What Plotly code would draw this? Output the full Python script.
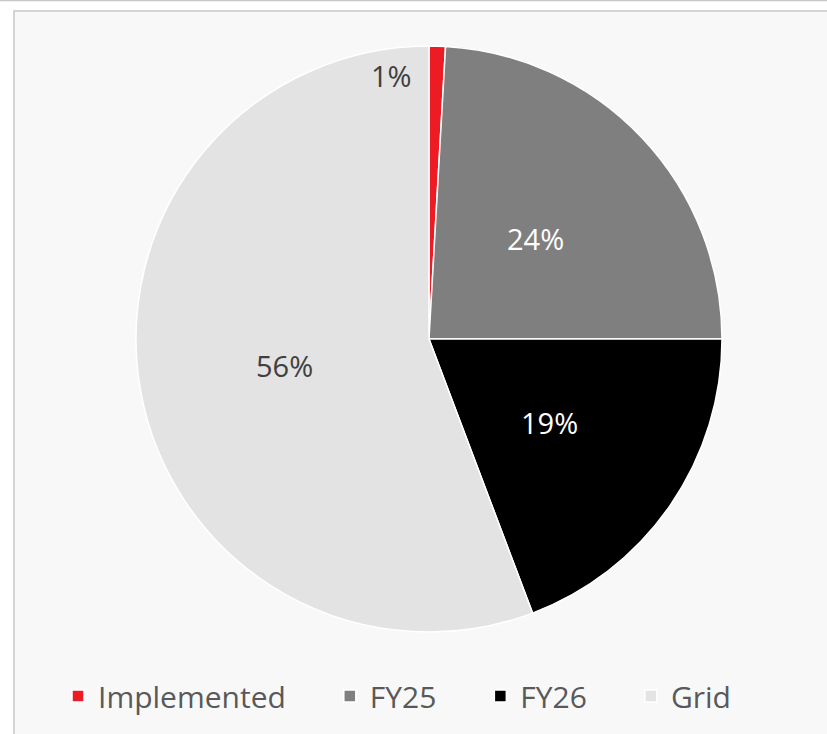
import math
import plotly.graph_objects as go

# ---- data ----
labels = ["Implemented", "FY25", "FY26", "Grid"]
values = [0.9, 24.1, 19.25, 55.75]
colors = ["#ED1C24", "#7F7F7F", "#000000", "#E3E3E3"]
label_colors = ["#404040", "#FFFFFF", "#FFFFFF", "#404040"]

W, H = 827, 734
CX, CY, R = 429, 339, 293  # pie centre / radius in px

# legend names padded with non-breaking spaces for wider entry spacing
legend_names = [l + "\u00a0" * 5 for l in labels]

fig = go.Figure()
fig.add_trace(go.Pie(
    labels=legend_names,
    values=values,
    sort=False,
    direction="clockwise",
    rotation=0,
    marker=dict(colors=colors, line=dict(color="#FFFFFF", width=1.5)),
    textinfo="none",
    hoverinfo="label+percent",
    domain=dict(x=[(CX - R) / W, (CX + R) / W], y=[1 - (CY + R) / H, 1 - (CY - R) / H]),
    showlegend=True,
))

# data labels computed from values
total = sum(values)
cum = 0.0
annotations = []
for i, v in enumerate(values):
    mid = (cum + v / 2) / total * 2 * math.pi
    cum += v
    pct = f"{round(v / total * 100):.0f}%"
    if v / total < 0.05:
        f = 0.9
        xa, xs = "right", -22
    else:
        f = 0.5
        xa, xs = "center", 0
    px = CX + f * R * math.sin(mid)
    py = CY - f * R * math.cos(mid)
    annotations.append(dict(
        x=px / W, y=1 - py / H, xref="paper", yref="paper",
        text=pct, showarrow=False, xanchor=xa, yanchor="middle", xshift=xs,
        font=dict(family="Open Sans", size=29, color=label_colors[i]),
    ))

fig.update_layout(
    width=W, height=H,
    margin=dict(l=0, r=0, t=0, b=0),
    paper_bgcolor="#FFFFFF",
    font=dict(family="Open Sans"),
    annotations=annotations,
    shapes=[
        dict(type="rect", xref="paper", yref="paper", x0=14 / W, x1=1.01, y0=-0.01, y1=1 - 11 / H,
             fillcolor="#F8F8F8", line=dict(color="#C8C8C8", width=1.5), layer="below"),
        dict(type="line", xref="paper", yref="paper", x0=0, x1=1, y0=1 - 0.5 / H, y1=1 - 0.5 / H,
             line=dict(color="#C8C8C8", width=1.5), layer="below"),
    ],
    legend=dict(
        orientation="h", x=58 / W, xanchor="left", y=1 - 696 / H, yanchor="middle",
        font=dict(family="Open Sans", size=30, color="#595959"),
        bgcolor="rgba(0,0,0,0)", traceorder="normal",
    ),
)

fig.write_html("out.html")
